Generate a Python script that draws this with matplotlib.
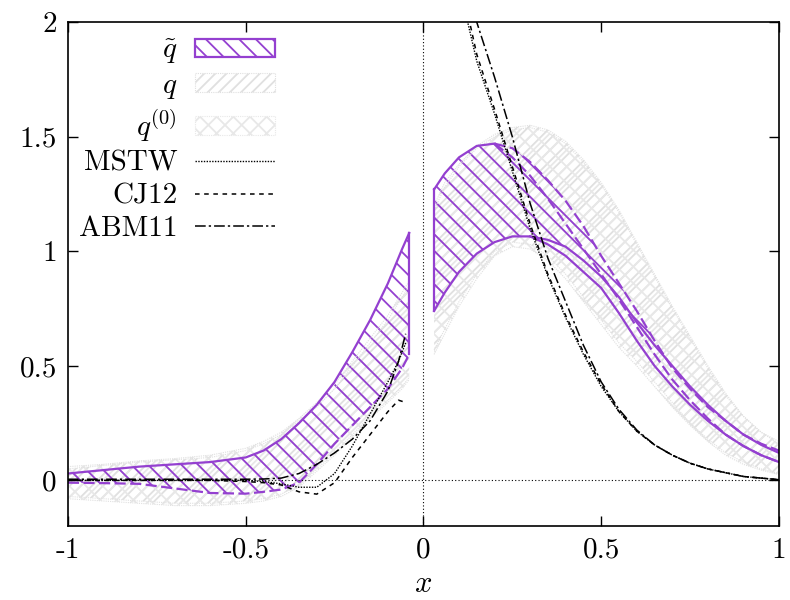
import numpy as np
import matplotlib
matplotlib.use("Agg")
import matplotlib.pyplot as plt
from matplotlib.patches import Patch
from matplotlib.lines import Line2D

plt.rcParams['font.family'] = 'serif'
plt.rcParams['font.serif'] = ['cmr10', 'DejaVu Serif']
plt.rcParams['mathtext.fontset'] = 'cm'
plt.rcParams['axes.unicode_minus'] = False
plt.rcParams['hatch.linewidth'] = 1.3

# purple band (q tilde), left and right pieces
x_left = [-1, -0.9, -0.8, -0.7, -0.6, -0.5, -0.45, -0.4, -0.35, -0.3, -0.25, -0.2, -0.15, -0.1, -0.06, -0.04]
qt_left_hi = [0.03, 0.045, 0.06, 0.07, 0.08, 0.10, 0.13, 0.18, 0.25, 0.33, 0.43, 0.56, 0.70, 0.86, 1.01, 1.08]
qt_left_lo = [-0.01, -0.012, -0.015, -0.035, -0.055, -0.058, -0.05, -0.04, -0.01, 0.07, 0.16, 0.24, 0.32, 0.40, 0.49, 0.55]

x_right = [0.03, 0.06, 0.1, 0.15, 0.2, 0.25, 0.3, 0.35, 0.4, 0.45, 0.5, 0.55, 0.6, 0.65, 0.7, 0.75, 0.8, 0.85, 0.9, 0.95, 1.0]
qt_right_hi = [1.27, 1.34, 1.41, 1.46, 1.47, 1.45, 1.39, 1.31, 1.22, 1.11, 0.98, 0.86, 0.74, 0.61, 0.49, 0.40, 0.32, 0.26, 0.20, 0.16, 0.13]
qt_right_hi2 = [1.27, 1.34, 1.41, 1.46, 1.47, 1.41, 1.33, 1.23, 1.12, 1.01, 0.90, 0.79, 0.67, 0.55, 0.44, 0.35, 0.27, 0.20, 0.15, 0.11, 0.08]
qt_right_lo = [0.74, 0.82, 0.91, 0.99, 1.04, 1.065, 1.065, 1.05, 1.02, 0.96, 0.89, 0.80, 0.69, 0.59, 0.50, 0.41, 0.33, 0.26, 0.20, 0.155, 0.12]
qt_right_lo2 = [0.74, 0.82, 0.91, 0.99, 1.04, 1.065, 1.065, 1.03, 0.98, 0.91, 0.84, 0.73, 0.61, 0.50, 0.41, 0.33, 0.26, 0.20, 0.15, 0.11, 0.08]

# gray bands (q and q^(0))
q_left_hi = [0.05, 0.065, 0.08, 0.09, 0.10, 0.13, 0.16, 0.20, 0.26, 0.32, 0.40, 0.50, 0.60, 0.70, 0.80, 0.85]
q_left_lo = [-0.07, -0.08, -0.09, -0.10, -0.10, -0.09, -0.08, -0.06, -0.02, 0.05, 0.12, 0.20, 0.28, 0.35, 0.41, 0.45]
q0_left_hi = [0.06, 0.07, 0.085, 0.095, 0.11, 0.14, 0.17, 0.21, 0.27, 0.34, 0.42, 0.52, 0.62, 0.72, 0.82, 0.87]
q0_left_lo = [-0.08, -0.09, -0.10, -0.11, -0.11, -0.10, -0.09, -0.07, -0.03, 0.04, 0.11, 0.19, 0.27, 0.34, 0.40, 0.44]

q_right_hi = [1.20, 1.30, 1.38, 1.46, 1.51, 1.54, 1.55, 1.53, 1.48, 1.40, 1.30, 1.18, 1.04, 0.90, 0.76, 0.63, 0.50, 0.38, 0.28, 0.21, 0.17]
q_right_lo = [0.57, 0.66, 0.78, 0.90, 1.00, 1.04, 1.03, 0.98, 0.90, 0.80, 0.70, 0.60, 0.52, 0.43, 0.34, 0.25, 0.18, 0.12, 0.08, 0.05, 0.03]
q0_right_hi = [1.18, 1.28, 1.37, 1.45, 1.50, 1.53, 1.54, 1.52, 1.47, 1.39, 1.29, 1.17, 1.03, 0.89, 0.75, 0.62, 0.49, 0.37, 0.28, 0.21, 0.16]
q0_right_lo = [0.55, 0.64, 0.76, 0.88, 0.98, 1.02, 1.01, 0.96, 0.88, 0.78, 0.68, 0.58, 0.50, 0.41, 0.32, 0.24, 0.17, 0.11, 0.07, 0.045, 0.025]

# global fits
x_fit_left = [-1, -0.8, -0.6, -0.5, -0.45, -0.4, -0.35, -0.3, -0.25, -0.2, -0.15, -0.1, -0.07, -0.05]
mstw_left = [0.0, 0.0, 0.0, 0.0, -0.005, -0.015, -0.03, -0.03, 0.03, 0.15, 0.29, 0.43, 0.52, 0.60]
cj12_left = [0.0, 0.0, 0.0, -0.005, -0.01, -0.02, -0.05, -0.06, -0.01, 0.10, 0.20, 0.30, 0.35, 0.34]
abm11_left = [0.005, 0.005, 0.005, 0.005, 0.006, 0.01, 0.03, 0.07, 0.12, 0.18, 0.26, 0.39, 0.52, 0.64]

x_fit_right = [0.1, 0.12, 0.15, 0.2, 0.25, 0.3, 0.35, 0.4, 0.45, 0.5, 0.55, 0.6, 0.65, 0.7, 0.75, 0.8, 0.9, 1.0]
mstw_right = [2.2, 2.03, 1.83, 1.60, 1.35, 1.10, 0.89, 0.71, 0.55, 0.41, 0.30, 0.215, 0.155, 0.11, 0.075, 0.05, 0.017, 0.003]
cj12_right = [2.25, 2.07, 1.86, 1.62, 1.37, 1.12, 0.90, 0.72, 0.56, 0.42, 0.30, 0.215, 0.155, 0.11, 0.075, 0.05, 0.017, 0.003]
abm11_right = [2.4, 2.2, 2.0, 1.76, 1.50, 1.21, 0.97, 0.78, 0.59, 0.43, 0.31, 0.22, 0.155, 0.11, 0.075, 0.05, 0.017, 0.003]

xticks = [-1, -0.5, 0, 0.5, 1]
xtick_labels = ['-1', '-0.5', '0', '0.5', '1']
yticks = [0, 0.5, 1, 1.5, 2]
ytick_labels = ['0', '0.5', '1', '1.5', '2']

purple = '#9440d0'
gray = '#e0e0e0'
gray0 = '#e8e8e8'

fig = plt.figure(figsize=(7.9, 6), dpi=100)
ax = fig.add_axes([0.086, 0.123, 0.9, 0.84])

# gray bands
for xs, hi, lo in [(x_left, q_left_hi, q_left_lo), (x_right, q_right_hi, q_right_lo)]:
    ax.fill_between(xs, lo, hi, facecolor='none', edgecolor=gray, hatch='///', lw=0)
    ax.plot(xs, hi, color=gray, lw=0.8, ls=(0, (1, 1)))
    ax.plot(xs, lo, color=gray, lw=0.8, ls=(0, (1, 1)))
for xs, hi, lo in [(x_left, q0_left_hi, q0_left_lo), (x_right, q0_right_hi, q0_right_lo)]:
    ax.fill_between(xs, lo, hi, facecolor='none', edgecolor=gray0, hatch='xx', lw=0)
    ax.plot(xs, hi, color=gray, lw=0.8, ls=(0, (1, 1)))
    ax.plot(xs, lo, color=gray, lw=0.8, ls=(0, (1, 1)))

# purple band
ax.fill_between(x_left, qt_left_lo, qt_left_hi, facecolor='none', edgecolor=purple, hatch='\\\\', lw=0)
ax.plot(x_left, qt_left_hi, color=purple, lw=1.6)
ax.plot(x_left, qt_left_lo, color=purple, lw=1.6, ls=(0, (5, 2)))
ax.plot([x_left[-1], x_left[-1]], [qt_left_lo[-1], qt_left_hi[-1]], color=purple, lw=1.6)

ax.fill_between(x_right, qt_right_lo, qt_right_hi, facecolor='none', edgecolor=purple, hatch='\\\\', lw=0)
ax.plot(x_right[:5], qt_right_hi[:5], color=purple, lw=1.6)
ax.plot(x_right[4:], qt_right_hi[4:], color=purple, lw=1.6, ls=(0, (5, 2)))
ax.plot(x_right[4:], qt_right_hi2[4:], color=purple, lw=1.6, ls=(0, (5, 2)))
ax.plot(x_right, qt_right_lo, color=purple, lw=1.6)
ax.plot(x_right[6:], qt_right_lo2[6:], color=purple, lw=1.6)
ax.plot([x_right[0], x_right[0]], [qt_right_lo[0], qt_right_hi[0]], color=purple, lw=1.6)

# zero lines
ax.axhline(0, color='black', lw=0.8, ls=(0, (1, 2)))
ax.axvline(0, color='black', lw=0.8, ls=(0, (1, 2)))

# fits
mstw_style = dict(color='black', lw=1.0, ls=(0, (1, 1)))
cj12_style = dict(color='black', lw=1.1, ls=(0, (3, 3)))
abm11_style = dict(color='black', lw=1.1, ls=(0, (7, 2, 1.5, 2)))
ax.plot(x_fit_left, mstw_left, **mstw_style)
ax.plot(x_fit_right, mstw_right, **mstw_style)
ax.plot(x_fit_left, cj12_left, **cj12_style)
ax.plot(x_fit_right, cj12_right, **cj12_style)
ax.plot(x_fit_left, abm11_left, **abm11_style)
ax.plot(x_fit_right, abm11_right, **abm11_style)

ax.set_xlim(-1, 1)
ax.set_ylim(-0.2, 2)
ax.set_xticks(xticks)
ax.set_xticklabels(xtick_labels)
ax.set_yticks(yticks)
ax.set_yticklabels(ytick_labels)
ax.tick_params(direction='in', length=7, width=1, top=True, right=True, labelsize=21, pad=8)
for s in ax.spines.values():
    s.set_linewidth(1.2)
ax.set_xlabel(r'$x$', fontsize=22, labelpad=5)

handles = [
    Patch(facecolor='none', edgecolor=purple, hatch='\\\\', lw=1.6),
    Patch(facecolor='none', edgecolor=gray, hatch='///', lw=0.8, ls=(0, (1, 1))),
    Patch(facecolor='none', edgecolor=gray0, hatch='xx', lw=0.8, ls=(0, (1, 1))),
    Line2D([], [], **mstw_style),
    Line2D([], [], **cj12_style),
    Line2D([], [], **abm11_style),
]
labels = [r'$\tilde{q}$', r'$q$', r'$q^{(0)}$', 'MSTW', 'CJ12', 'ABM11']
ax.legend(handles, labels, loc='upper right', bbox_to_anchor=(0.291, 0.97),
          frameon=False, markerfirst=False, fontsize=21, handlelength=2.75,
          handleheight=0.6, labelspacing=0.22, handletextpad=0.6, borderpad=0,
          borderaxespad=0)

fig.savefig('out.png', dpi=100)
